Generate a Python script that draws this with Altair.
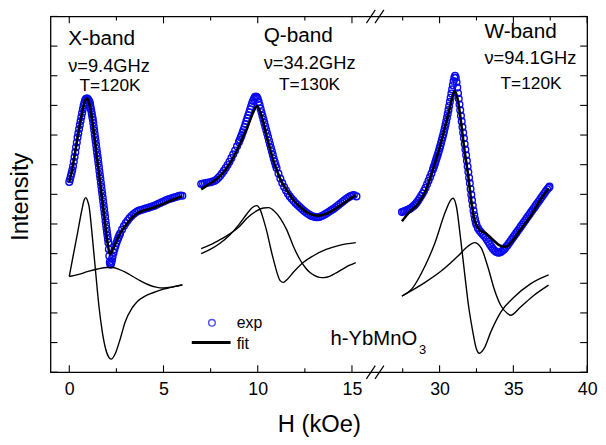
import altair as alt
import pandas as pd

FONT = "Liberation Sans"

# ---------------- data (H in kOe, intensity in a.u.) ----------------
# X-band, 9.4 GHz
xb_exp_H = [0.00, 0.04, 0.08, 0.12, 0.16, 0.20, 0.24, 0.28, 0.32, 0.36, 0.40, 0.44, 0.48, 0.52, 0.56,
            0.60, 0.64, 0.68, 0.72, 0.76, 0.80, 0.84, 0.88, 0.92, 0.96, 1.000, 1.025, 1.050, 1.075,
            1.100, 1.125, 1.150, 1.175, 1.200, 1.225, 1.250, 1.275, 1.300, 1.325, 1.350, 1.375, 1.400,
            1.425, 1.450, 1.475, 1.500, 1.525, 1.550, 1.575, 1.600, 1.625, 1.650, 1.675, 1.700, 1.725,
            1.750, 1.775, 1.800, 1.825, 1.850, 1.875, 1.900, 1.925, 1.950, 1.975, 2.000, 2.025, 2.050,
            2.075, 2.100, 2.125, 2.150, 2.175, 2.200, 2.225, 2.250, 2.275, 2.300, 2.35, 2.40, 2.45,
            2.50, 2.55, 2.60, 2.65, 2.70, 2.80, 2.90, 3.00, 3.10, 3.20, 3.30, 3.40, 3.50, 3.60, 3.70,
            3.80, 3.90, 4.00, 4.10, 4.20, 4.30, 4.40, 4.50, 4.60, 4.70, 4.80, 4.90, 5.00, 5.10, 5.20,
            5.30, 5.40, 5.50, 5.60, 5.70, 5.80, 5.90, 6.00]
xb_exp_I = [6.42, 6.51, 6.61, 6.71, 6.82, 6.95, 7.10, 7.26, 7.42, 7.59, 7.75, 7.92, 8.06, 8.20, 8.34,
            8.47, 8.61, 8.74, 8.87, 8.99, 9.09, 9.17, 9.21, 9.23, 9.23, 9.20, 9.17, 9.14, 9.11,
            9.05, 8.96, 8.88, 8.79, 8.70, 8.61, 8.52, 8.41, 8.28, 8.16, 8.03, 7.91, 7.79,
            7.66, 7.54, 7.41, 7.29, 7.17, 7.04, 6.91, 6.78, 6.65, 6.53, 6.40, 6.27, 6.14,
            6.02, 5.89, 5.76, 5.63, 5.50, 5.37, 5.24, 5.10, 4.97, 4.85, 4.73, 4.61, 4.49,
            4.37, 4.15, 3.92, 3.72, 3.64, 3.63, 3.68, 3.75, 3.82, 3.90, 4.03, 4.15, 4.26,
            4.36, 4.45, 4.53, 4.61, 4.68, 4.81, 4.93, 5.03, 5.12, 5.20, 5.27, 5.33, 5.38, 5.42, 5.45,
            5.47, 5.49, 5.51, 5.53, 5.55, 5.57, 5.59, 5.61, 5.64, 5.67, 5.70, 5.73, 5.76, 5.79, 5.82,
            5.84, 5.86, 5.88, 5.90, 5.92, 5.94, 5.96, 5.95]
xb_fit_H = [0.00, 0.17, 0.44, 0.70, 0.84, 0.93, 1.05, 1.22, 1.49, 1.75, 1.92, 2.06, 2.15, 2.31, 2.62,
            3.06, 3.50, 3.93, 4.37, 5.24, 5.98]
xb_fit_I = [6.42, 6.90, 7.92, 8.81, 9.17, 9.23, 9.09, 8.48, 7.14, 5.81, 4.92, 4.25, 3.98, 4.14, 4.59,
            5.01, 5.31, 5.45, 5.53, 5.75, 5.94]
xb_c1_H = [0.00, 0.17, 0.44, 0.67, 0.79, 0.88, 0.96, 1.05, 1.22, 1.40, 1.57, 1.75, 1.92, 2.10, 2.22,
           2.45, 2.71, 2.97, 3.32, 3.60, 4.00, 4.44, 5.00, 5.50, 6.00]
xb_c1_I = [3.23, 3.81, 4.70, 5.48, 5.81, 5.89, 5.80, 5.59, 4.59, 3.37, 2.25, 1.37, 0.81, 0.50, 0.44,
           0.64, 1.14, 1.70, 2.15, 2.38, 2.56, 2.68, 2.80, 2.88, 2.95]
xb_c2_H = [0.00, 0.50, 1.00, 1.50, 2.00, 2.30, 2.60, 3.00, 3.40, 3.80, 4.20, 4.60, 5.00, 5.50, 6.00]
xb_c2_I = [3.23, 3.30, 3.40, 3.48, 3.53, 3.53, 3.48, 3.37, 3.22, 3.07, 2.95, 2.87, 2.84, 2.88, 2.94]

# Q-band, 34.2 GHz
qb_exp_H = [7.00, 7.10, 7.20, 7.30, 7.40, 7.50, 7.60, 7.70, 7.80, 7.90, 8.00, 8.10, 8.20, 8.30, 8.40,
            8.50, 8.60, 8.70, 8.80, 8.90, 9.00, 9.05, 9.10, 9.15, 9.20, 9.25, 9.30, 9.35, 9.40, 9.45,
            9.50, 9.55, 9.60, 9.65, 9.70, 9.75, 9.80, 9.85, 9.90, 9.95, 10.00, 10.05, 10.10, 10.15,
            10.20, 10.25, 10.30, 10.35, 10.40, 10.45, 10.50, 10.55, 10.60, 10.65, 10.70, 10.75, 10.80,
            10.85, 10.90, 10.95, 11.00, 11.10, 11.20, 11.30, 11.40, 11.50, 11.60, 11.70, 11.80, 11.90,
            12.00, 12.10, 12.20, 12.30, 12.40, 12.50, 12.60, 12.70, 12.80, 12.90, 13.00, 13.10, 13.20,
            13.30, 13.40, 13.50, 13.60, 13.70, 13.80, 13.90, 14.00, 14.10, 14.20, 14.30, 14.40, 14.50,
            14.60, 14.70, 14.80, 14.90, 15.00, 15.10, 15.24]
qb_exp_I = [6.35, 6.36, 6.37, 6.39, 6.40, 6.41, 6.43, 6.45, 6.49, 6.55, 6.62, 6.70, 6.79, 6.89, 6.99,
            7.10, 7.22, 7.35, 7.48, 7.62, 7.76, 7.84, 7.92, 8.00, 8.09, 8.18, 8.27, 8.37, 8.47, 8.57,
            8.67, 8.77, 8.87, 8.97, 9.07, 9.15, 9.22, 9.28, 9.30, 9.28, 9.22, 9.12, 9.01, 8.89,
            8.77, 8.65, 8.53, 8.41, 8.29, 8.17, 8.05, 7.93, 7.81, 7.69, 7.57, 7.45, 7.33,
            7.21, 7.10, 6.99, 6.89, 6.70, 6.53, 6.38, 6.25, 6.13, 6.02, 5.93, 5.85, 5.78,
            5.71, 5.65, 5.59, 5.53, 5.47, 5.42, 5.37, 5.33, 5.29, 5.26, 5.24, 5.23, 5.23,
            5.24, 5.27, 5.30, 5.34, 5.38, 5.42, 5.46, 5.50, 5.55, 5.60, 5.65, 5.70, 5.75,
            5.80, 5.85, 5.89, 5.93, 5.96, 5.98, 5.93]
qb_fit_H = [7.00, 7.34, 8.04, 8.57, 9.09, 9.44, 9.79, 9.96, 10.23, 10.49, 10.75, 11.01, 11.27, 11.54,
            11.89, 12.23, 12.67, 13.20, 13.63, 14.16, 14.68, 15.20]
qb_fit_I = [6.17, 6.31, 6.64, 7.09, 7.75, 8.25, 8.81, 8.98, 8.59, 7.92, 7.31, 6.81, 6.42, 6.14,
            5.81, 5.59, 5.37, 5.28, 5.34, 5.53, 5.75, 5.98]
qb_c1_H = [7.00, 7.50, 8.00, 8.50, 9.00, 9.40, 9.70, 9.95, 10.15, 10.31, 10.50, 10.66, 10.80, 10.92,
           11.05, 11.19, 11.36, 11.55, 11.89, 12.41, 12.93, 13.63, 14.33, 15.20]
qb_c1_I = [4.00, 4.15, 4.35, 4.62, 4.98, 5.32, 5.55, 5.62, 5.45, 5.14, 4.70, 4.25, 3.88, 3.59,
           3.30, 3.09, 3.03, 3.12, 3.37, 3.70, 3.92, 4.14, 4.28, 4.37]
qb_c2_H = [7.00, 7.50, 8.00, 8.50, 9.00, 9.44, 9.96, 10.30, 10.58, 10.90, 11.19, 11.54, 11.89, 12.23,
           12.50, 12.76, 13.00, 13.28, 13.50, 13.81, 14.10, 14.51, 14.85, 15.20]
qb_c2_I = [4.17, 4.30, 4.47, 4.66, 4.90, 5.20, 5.45, 5.54, 5.55, 5.42, 5.20, 4.80, 4.25, 3.81,
           3.55, 3.37, 3.27, 3.20, 3.19, 3.23, 3.33, 3.48, 3.60, 3.70]

# W-band, 94.1 GHz
wb_exp_H = [27.45, 27.55, 27.65, 27.75, 27.85, 27.95, 28.05, 28.15, 28.25, 28.35, 28.45, 28.55, 28.65,
            28.75, 28.85, 28.95, 29.05, 29.15, 29.25, 29.35, 29.45, 29.55, 29.60, 29.65, 29.70, 29.75,
            29.80, 29.85, 29.90, 29.95, 30.00, 30.05, 30.10, 30.15, 30.20, 30.25, 30.30, 30.35, 30.40,
            30.45, 30.50, 30.55, 30.60, 30.65, 30.70, 30.75, 30.80, 30.85, 30.90, 30.95, 31.00, 31.05,
            31.10, 31.15, 31.20, 31.25, 31.30, 31.35, 31.40, 31.45, 31.50, 31.55, 31.60, 31.65, 31.70,
            31.75, 31.80, 31.85, 31.90, 31.95, 32.00, 32.05, 32.10, 32.15, 32.20, 32.25, 32.30, 32.35,
            32.40, 32.45, 32.50, 32.60, 32.70, 32.80, 32.90, 33.00, 33.10, 33.20, 33.30, 33.40, 33.50,
            33.60, 33.70, 33.80, 33.90, 34.00, 34.10, 34.20, 34.30, 34.40, 34.50, 34.60, 34.70, 34.80,
            34.90, 35.00, 35.10, 35.20, 35.30, 35.40, 35.50, 35.60, 35.70, 35.80, 35.90, 36.00, 36.10,
            36.20, 36.30, 36.40, 36.50, 36.60, 36.70, 36.80, 36.90, 37.00, 37.10, 37.20, 37.30, 37.40,
            37.45]
wb_exp_I = [5.40, 5.42, 5.44, 5.46, 5.48, 5.50, 5.53, 5.57, 5.61, 5.66, 5.72, 5.79, 5.87,
            5.95, 6.03, 6.12, 6.22, 6.34, 6.46, 6.58, 6.70, 6.84, 6.91, 6.98, 7.06, 7.14,
            7.22, 7.30, 7.38, 7.46, 7.55, 7.64, 7.73, 7.82, 7.92, 8.02, 8.12, 8.23, 8.34,
            8.46, 8.58, 8.71, 8.84, 8.98, 9.12, 9.26, 9.40, 9.54, 9.68, 9.82, 9.94, 10.00,
            9.93, 9.78, 9.60, 9.41, 9.22, 9.03, 8.84, 8.65, 8.46, 8.27, 8.08, 7.89, 7.70,
            7.51, 7.32, 7.13, 6.94, 6.75, 6.56, 6.37, 6.18, 5.99, 5.80, 5.62, 5.45, 5.30,
            5.17, 5.06, 4.97, 4.86, 4.78, 4.72, 4.66, 4.61, 4.55, 4.48, 4.40, 4.32, 4.24,
            4.17, 4.11, 4.07, 4.04, 4.03, 4.04, 4.07, 4.11, 4.16, 4.22, 4.28, 4.35, 4.42,
            4.49, 4.56, 4.63, 4.70, 4.77, 4.84, 4.91, 4.98, 5.05, 5.12, 5.19, 5.26, 5.33,
            5.40, 5.47, 5.54, 5.61, 5.68, 5.75, 5.82, 5.89, 5.96, 6.03, 6.10, 6.17, 6.22,
            6.26]
wb_fit_H = [27.45, 27.90, 28.57, 29.02, 29.46, 29.91, 30.13, 30.36, 30.69, 30.91, 31.02, 31.25, 31.47,
            31.69, 31.92, 32.14, 32.36, 32.70, 33.15, 33.59, 34.04, 34.49, 34.93, 35.49, 36.16, 36.83,
            37.39]
wb_fit_I = [5.09, 5.37, 5.70, 6.09, 6.70, 7.42, 7.81, 8.25, 8.92, 9.37, 9.48, 9.14, 8.37,
            7.48, 6.70, 5.81, 5.14, 4.81, 4.68, 4.48, 4.29, 4.23, 4.42, 4.81, 5.25, 5.81,
            6.20]
wb_c1_H = [27.45, 28.12, 29.02, 29.69, 30.36, 30.76, 30.91, 31.14, 31.43, 31.69, 31.96, 32.25, 32.48,
           32.70, 33.03, 33.48, 34.15, 35.04, 36.16, 37.39]
wb_c1_I = [2.57, 2.81, 3.59, 4.37, 5.37, 5.81, 5.87, 5.59, 4.48, 3.37, 2.25, 1.37, 0.81,
           0.64, 0.81, 1.37, 2.03, 2.53, 2.98, 3.28]
wb_c2_H = [27.45, 29.02, 30.13, 31.25, 31.92, 32.36, 32.81, 33.25, 33.70, 34.15, 34.60, 34.82, 35.49,
           36.38, 37.39]
wb_c2_I = [2.57, 3.03, 3.42, 3.92, 4.25, 4.37, 4.20, 3.59, 2.81, 2.25, 1.98, 1.92, 2.20,
           2.59, 2.94]

# axis ticks (kOe) and frame decorations
major_ticks = [0, 5, 10, 15, 30, 35, 40]
minor_ticks = [2.5, 7.5, 12.5, 27.5, 32.5, 37.5]
y_ticks = list(range(0, 13))
break_H = [16.23]

# annotations: text, H, intensity, font size
ann_text = ["X-band", "ν=9.4GHz", "T=120K", "Q-band", "ν=34.2GHz", "T=130K",
            "W-band", "ν=94.1GHz", "T=120K", "exp", "fit", "h-YbMnO", "3"]
ann_H = [-0.06, -0.06, 0.545, 10.315, 10.315, 11.13, 33.04, 33.04, 34.13, 8.89, 8.88, 13.865, 28.61]
ann_I = [11.04, 10.13, 9.47, 11.13, 10.24, 9.52, 11.27, 10.38, 9.56, 1.50, 0.78, 0.93, 0.63]
ann_size = [21, 18.5, 17.5, 21, 18.5, 17.5, 21, 18.5, 17.5, 16, 16, 20.5, 13]
legend_pt_H, legend_pt_I = [7.57], [1.667]
legend_line_H, legend_line_I = [6.50, 8.56], [1.0, 1.0]

# ---------------- broken-axis mapping ----------------
SPLIT, U_BREAK, R_OFF, R_FAC = 20, 17, 19.649, 0.7829
U_EXPR = f"datum.H < {SPLIT} ? datum.H : {R_OFF} + (datum.H - 30) * {R_FAC}"


def u_of(h):
    return h if h < SPLIT else R_OFF + (h - 30) * R_FAC


W, HGT = 543, 360


def frame(pairs, key):
    rows = []
    for name, hs, vs in pairs:
        rows += [{"H": h, "I": v, key: name} for h, v in zip(hs, vs)]
    return pd.DataFrame(rows)


exp_df = frame([("X", xb_exp_H, xb_exp_I), ("Q", qb_exp_H, qb_exp_I), ("W", wb_exp_H, wb_exp_I)], "band")
fit_df = frame([("X", xb_fit_H, xb_fit_I), ("Q", qb_fit_H, qb_fit_I), ("W", wb_fit_H, wb_fit_I)], "band")
comp_df = frame([("X1", xb_c1_H, xb_c1_I), ("X2", xb_c2_H, xb_c2_I),
                 ("Q1", qb_c1_H, qb_c1_I), ("Q2", qb_c2_H, qb_c2_I),
                 ("W1", wb_c1_H, wb_c1_I), ("W2", wb_c2_H, wb_c2_I)], "curve")
ann_df = pd.DataFrame({"text": ann_text, "H": ann_H, "I": ann_I, "size": ann_size})
major_df = pd.DataFrame({"H": major_ticks})
minor_df = pd.DataFrame({"H": minor_ticks})
ytick_df = pd.DataFrame({"I": y_ticks})
break_df = pd.DataFrame({"H": break_H})
lpt_df = pd.DataFrame({"H": legend_pt_H, "I": legend_pt_I})
lln_df = pd.DataFrame({"H": legend_line_H, "I": legend_line_I})

xscale = alt.Scale(domain=[-0.9964, 27.478], nice=False, zero=False)
yscale = alt.Scale(domain=[0, 12], nice=False, zero=False)

label_expr = (f"datum.value < {U_BREAK} ? format(datum.value, 'd') : "
              f"format(round(30 + (datum.value - {R_OFF}) / {R_FAC}), 'd')")
xaxis = alt.Axis(values=[u_of(h) for h in major_ticks], labelExpr=label_expr, ticks=False, tickSize=0,
                 domain=False, grid=False, labelFont=FONT, labelFontSize=18, labelColor="black",
                 labelBaseline="alphabetic", labelPadding=23, labelFlush=False, labelOverlap=False,
                 title="H (kOe)", titleFont=FONT, titleFontSize=24, titleFontWeight="normal",
                 titleColor="black", titleBaseline="alphabetic", titleY=60)
yaxis = alt.Axis(labels=False, ticks=False, domain=False, grid=False, title="Intensity",
                 titleFont=FONT, titleFontSize=24, titleFontWeight="normal", titleColor="black",
                 titleAngle=270, titleBaseline="alphabetic", titleAlign="center", titleX=-23, titleY=182)

X = alt.X("u:Q", scale=xscale, axis=xaxis)
X2 = alt.X2("u:Q")
Y = alt.Y("I:Q", scale=yscale, axis=yaxis)
BLUE = "#0a0af0"


def base(df):
    return alt.Chart(df).transform_calculate(u=U_EXPR)


exp_layer = base(exp_df).mark_point(shape="circle", filled=False, size=46, strokeWidth=1.4,
                                    color=BLUE, opacity=1).encode(x=X, y=Y)
comp_layer = base(comp_df).mark_line(color="black", strokeWidth=1.4, interpolate="monotone").encode(
    x=X, y=Y, detail="curve:N")
fit_layer = base(fit_df).mark_line(color="black", strokeWidth=2.6, interpolate="monotone").encode(
    x=X, y=Y, detail="band:N")
lpt_layer = base(lpt_df).mark_point(shape="circle", filled=False, size=46, strokeWidth=1.4,
                                    color=BLUE).encode(x=X, y=Y)
lln_layer = base(lln_df).mark_line(color="black", strokeWidth=3).encode(x=X, y=Y)
ann_layer = base(ann_df).mark_text(align="left", baseline="alphabetic", font=FONT, color="black").encode(
    x=X, y=Y, text="text:N", size=alt.Size("size:Q", scale=None, legend=None))

tick_col = "black"
bmaj = base(major_df).mark_rule(color=tick_col, strokeWidth=1.1).encode(
    x=X, y=alt.value(HGT), y2=alt.value(HGT - 7))
tmaj = base(major_df).mark_rule(color=tick_col, strokeWidth=1.1).encode(
    x=X, y=alt.value(0), y2=alt.value(7))
bmin = base(minor_df).mark_rule(color=tick_col, strokeWidth=1.1).encode(
    x=X, y=alt.value(HGT), y2=alt.value(HGT - 4))
tmin = base(minor_df).mark_rule(color=tick_col, strokeWidth=1.1).encode(
    x=X, y=alt.value(0), y2=alt.value(4))
ltick = alt.Chart(ytick_df).mark_rule(color=tick_col, strokeWidth=1.1).encode(
    y=Y, x=alt.value(0), x2=alt.value(7))
rtick = alt.Chart(ytick_df).mark_rule(color=tick_col, strokeWidth=1.1).encode(
    y=Y, x=alt.value(W), x2=alt.value(W - 7))

slashes = []
for yline in (0, HGT):
    for xo, x2o in ((-8.85, 0.15), (-0.15, 8.85)):
        slashes.append(
            base(break_df).mark_rule(color="black", strokeWidth=1.2, xOffset=xo, x2Offset=x2o).encode(
                x=X, x2=X2, y=alt.value(yline + 6.7), y2=alt.value(yline - 6.7)))

chart = alt.layer(
    exp_layer, comp_layer, fit_layer, lpt_layer, lln_layer, ann_layer,
    bmaj, tmaj, bmin, tmin, ltick, rtick, *slashes
).properties(
    width=W, height=HGT,
    autosize=alt.AutoSizeParams(type="none"),
    padding={"left": 43, "top": 6, "right": 11, "bottom": 63},
    background="white",
).configure_view(stroke="black", strokeWidth=1.3)

chart.save("out.html", embed_options={"renderer": "svg", "actions": False})
